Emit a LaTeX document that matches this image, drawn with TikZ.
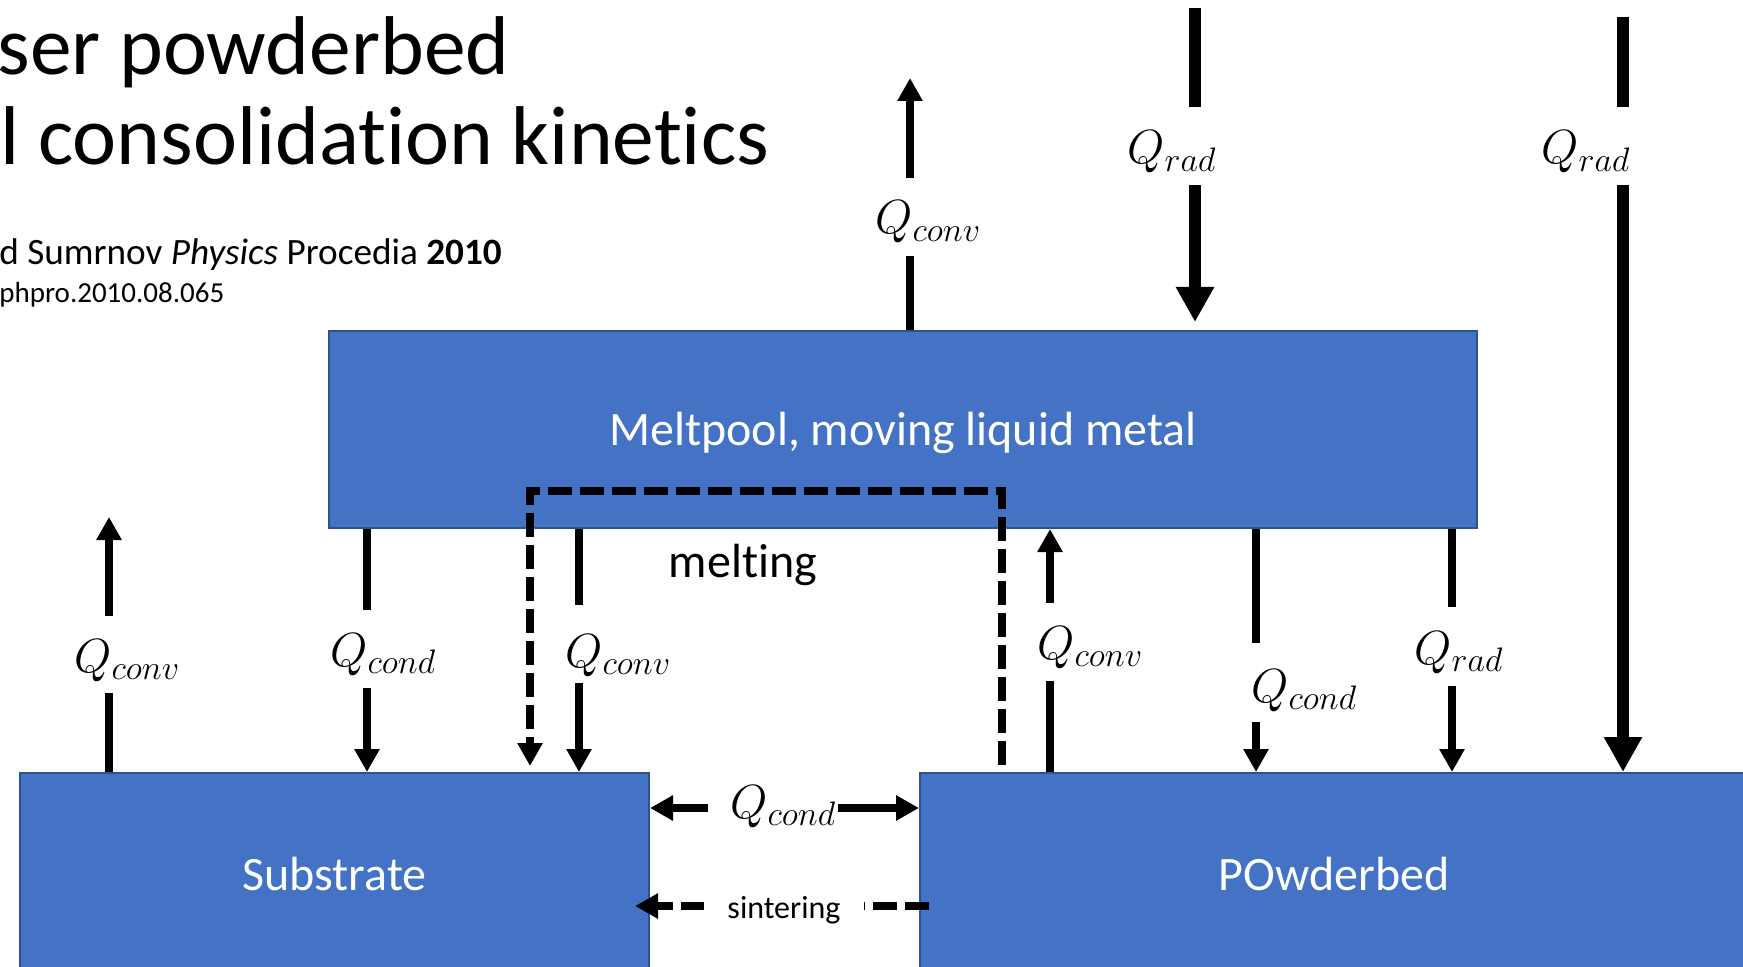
\documentclass[tikz,border=0pt]{standalone}
\usepackage{fix-cm}
\usepackage{fontspec}
\setmainfont{Carlito}[Ligatures=NoCommon]
\DeclareMathSizes{24}{24}{17}{12}
\usetikzlibrary{arrows.meta}
\definecolor{boxblue}{HTML}{4472C4}
\definecolor{boxedge}{HTML}{2F528F}
\tikzset{
  blockbox/.style={draw=boxedge, line width=1pt, fill=boxblue, text=white,
    font=\fontsize{24}{29}\selectfont, text height=16pt, text depth=0pt, inner sep=0pt},
  thinarr/.style={line width=4pt, -{Triangle[length=11.5pt,width=12pt]}},
  thickarr/.style={line width=5.8pt, -{Triangle[length=17.5pt,width=18pt]}},
  dasharr/.style={line width=4pt, dash pattern=on 12pt off 4pt, -{Triangle[length=11.5pt,width=12pt]}},
  qlab/.style 2 args={anchor=base west, inner xsep=4pt, inner ysep=0pt, fill=white,
    text height=#1, text depth=#2, font=\fontsize{24}{29}\selectfont},
  plainlab/.style={anchor=base west, inner sep=0pt, font=\fontsize{24}{29}\selectfont},
  titletext/.style={anchor=base west, inner sep=0pt, font=\fontsize{41.7}{50}\selectfont},
}
\begin{document}
\begin{tikzpicture}[x=0.5pt, y=-0.5pt]
\useasboundingbox (0,0) rectangle (1743,967);

% title texts
\node[titletext] (t1) at (-3,75) {ser powderbed};
\node[titletext] (t2) at (0,165) {l consolidation kinetics};
\node[anchor=base west, inner sep=0pt, font=\fontsize{18.6}{22}\selectfont] (t3) at (-1,265)
  {d Sumrnov \textit{Physics} Procedia \textbf{2010}};
\node[anchor=base west, inner sep=0pt, font=\fontsize{14.5}{17}\selectfont] (t4) at (-1,303)
  {phpro.2010.08.065};

% boxes
\node[blockbox, minimum width=574pt, minimum height=98.5pt] (mp) at (903,429.5) {Meltpool, moving liquid metal};
\node[blockbox, minimum width=314.5pt, minimum height=101pt] (sub) at (334.5,874) {Substrate};
\node[blockbox, minimum width=414pt, minimum height=101pt] (pb) at (1334,874) {POwderbed};

% coordinates for free ends
\coordinate (a1) at (910,78);
\coordinate (b1) at (1195,8);
\coordinate (c1) at (1623,17);
\coordinate (d1) at (109,517);
\coordinate (ex) at (367,0);
\coordinate (gx) at (579,0);
\coordinate (hx) at (1050,0);
\coordinate (ix) at (1256,0);
\coordinate (jx) at (1452,0);
\coordinate (m1) at (1002,765);
\coordinate (mc) at (530,491);
\coordinate (m4) at (530,766);
\coordinate (hl) at (708,808);
\coordinate (hr) at (838,808);
\coordinate (s1) at (929,906);
\coordinate (s2) at (635,906);

% arrows
\draw[thinarr] (mp.north -| a1) -- (a1);
\draw[thickarr, shorten >=4pt] (b1) -- (mp.north -| b1);
\draw[thickarr] (c1) -- (pb.north -| c1);
\draw[thinarr] (sub.north -| d1) -- (d1);
\draw[thinarr] (mp.south -| ex) -- (sub.north -| ex);
\draw[thinarr] (mp.south -| gx) -- (sub.north -| gx);
\draw[thinarr] (pb.north -| hx) -- (mp.south -| hx);
\draw[thinarr] (mp.south -| ix) -- (pb.north -| ix);
\draw[thinarr] (mp.south -| jx) -- (pb.north -| jx);
\draw[dasharr] (m1) |- (mc) -- (m4);
\draw[dasharr] (s1) -- (s2);

% labels
\node[qlab={28pt}{11pt}] (la) at (867,234) {$Q_{conv}$};
\node[qlab={28.5pt}{10.5pt}] (lb) at (1119,164) {$Q_{rad}$};
\node[qlab={28.5pt}{10.5pt}] (lc) at (1533,164) {$Q_{rad}$};
\node[qlab={28pt}{10.5pt}] (ld) at (66,672) {$Q_{conv}$};
\node[qlab={28pt}{11pt}] (le) at (322,666) {$Q_{cond}$};
\node[qlab={31pt}{8pt}] (lg) at (557,667) {$Q_{conv}$};
\node[qlab={28pt}{11pt}] (lh) at (1029,659) {$Q_{conv}$};
\node[qlab={29.5pt}{10pt}] (li) at (1243,702) {$Q_{cond}$};
\node[qlab={28.5pt}{11pt}] (lj) at (1406,664) {$Q_{rad}$};
\node[plainlab] (lq) at (730,818) {$Q_{cond}$};
\node[anchor=base, inner sep=0pt, font=\fontsize{24}{29}\selectfont] (melt) at (743,577) {melting};
\node[anchor=base, inner xsep=0pt, inner ysep=3pt, fill=white, minimum width=80pt,
  font=\fontsize{16}{19}\selectfont] (sint) at (784,918) {sintering};

% horizontal conduction arrows (drawn over the label, as in the picture)
\draw[thinarr] (hl) -- (sub.east |- hl);
\draw[thinarr] (hr) -- (pb.west |- hr);
\end{tikzpicture}
\end{document}
